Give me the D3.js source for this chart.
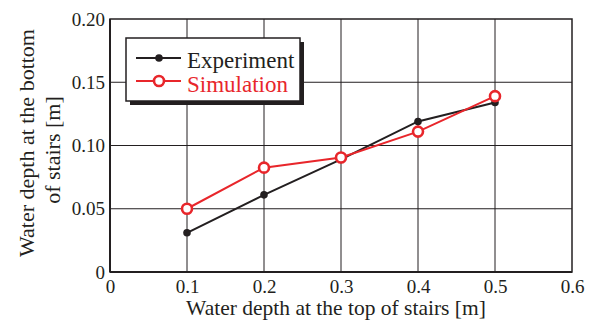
<!DOCTYPE html>
<html>
<head>
<meta charset="utf-8">
<script src="https://cdn.jsdelivr.net/npm/d3@7"></script>
<style>
  html, body { margin: 0; padding: 0; background: #fff; }
  svg { display: block; }
  svg text { font-family: 'Liberation Serif', 'Times New Roman', serif; }
</style>
</head>
<body>
<svg id="chart" width="592" height="321"></svg>
<script>
// Water depth at the top of stairs [m]
const topDepth = [0.1, 0.2, 0.3, 0.4, 0.5];
// Measured and simulated water depth at the bottom of stairs [m]
const experiment = [0.031, 0.061, 0.089, 0.119, 0.134];
const simulation = [0.050, 0.0825, 0.0905, 0.111, 0.139];

const xTicks = [0, 0.1, 0.2, 0.3, 0.4, 0.5, 0.6];
const xTickLabels = ["0", "0.1", "0.2", "0.3", "0.4", "0.5", "0.6"];
const yTicks = [0, 0.05, 0.10, 0.15, 0.20];
const yTickLabels = ["0", "0.05", "0.10", "0.15", "0.20"];

const seriesNames = ["Experiment", "Simulation"];
const ink = "#231f20";
const red = "#e8262b";
const serif = "'Liberation Serif', 'Times New Roman', serif";

const svg = d3.select("#chart");
const plotL = 110, plotR = 572, plotT = 19, plotB = 272;

const x = d3.scaleLinear().domain([0, 0.6]).range([plotL, plotR]);
const y = d3.scaleLinear().domain([0, 0.2]).range([plotB, plotT]);

// grid
const grid = svg.append("g");
grid.selectAll(".vg").data(xTicks.slice(1, -1)).enter().append("line")
  .attr("x1", d => x(d)).attr("x2", d => x(d))
  .attr("y1", plotT).attr("y2", plotB)
  .attr("stroke", ink).attr("stroke-width", 1);
grid.selectAll(".hg").data(yTicks.slice(1, -1)).enter().append("line")
  .attr("x1", plotL).attr("x2", plotR)
  .attr("y1", d => y(d)).attr("y2", d => y(d))
  .attr("stroke", ink).attr("stroke-width", 1);

// frame, with heavier left and bottom axes
svg.append("rect")
  .attr("x", plotL).attr("y", plotT)
  .attr("width", plotR - plotL).attr("height", plotB - plotT)
  .attr("fill", "none").attr("stroke", ink).attr("stroke-width", 1.5);
svg.append("line").attr("x1", plotL).attr("x2", plotR).attr("y1", plotB).attr("y2", plotB)
  .attr("stroke", ink).attr("stroke-width", 2.2);
svg.append("line").attr("x1", plotL).attr("x2", plotL).attr("y1", plotT).attr("y2", plotB)
  .attr("stroke", ink).attr("stroke-width", 2);

// axes
const xAxis = d3.axisBottom(x).tickValues(xTicks)
  .tickFormat((d, i) => xTickLabels[i]).tickSize(0).tickPadding(8);
const gx = svg.append("g").attr("transform", `translate(0,${plotB})`).call(xAxis);
gx.attr("font-family", serif).attr("font-size", 19);
gx.select(".domain").remove();
gx.selectAll("text").attr("fill", ink).attr("dy", "0.71em");

const yAxis = d3.axisLeft(y).tickValues(yTicks)
  .tickFormat((d, i) => yTickLabels[i]).tickSize(0).tickPadding(5);
const gy = svg.append("g").attr("transform", `translate(${plotL},0)`).call(yAxis);
gy.attr("font-family", serif).attr("font-size", 19);
gy.select(".domain").remove();
gy.selectAll("text").attr("fill", ink);

// axis titles
svg.append("text")
  .attr("x", 336).attr("y", 315)
  .attr("text-anchor", "middle").attr("font-size", 21.5).attr("fill", ink)
  .attr("font-family", serif)
  .text("Water depth at the top of stairs [m]");
const yt = svg.append("text")
  .attr("transform", "translate(34,143) rotate(-90)")
  .attr("text-anchor", "middle").attr("font-size", 22).attr("fill", ink)
  .attr("font-family", serif);
yt.append("tspan").attr("x", 0).attr("dy", 0).text("Water depth at the bottom");
yt.append("tspan").attr("x", -7).attr("dy", 26).text("of stairs [m]");

// series
const line = d3.line().x((d, i) => x(topDepth[i])).y(d => y(d));
svg.append("path").datum(experiment).attr("d", line)
  .attr("fill", "none").attr("stroke", ink).attr("stroke-width", 2);
svg.append("path").datum(simulation).attr("d", line)
  .attr("fill", "none").attr("stroke", red).attr("stroke-width", 2);

svg.selectAll(".exp").data(experiment).enter().append("circle")
  .attr("cx", (d, i) => x(topDepth[i])).attr("cy", d => y(d))
  .attr("r", 3.8).attr("fill", ink);
svg.selectAll(".sim").data(simulation).enter().append("circle")
  .attr("cx", (d, i) => x(topDepth[i])).attr("cy", d => y(d))
  .attr("r", 5).attr("fill", "#fff").attr("stroke", red).attr("stroke-width", 2.6);

// legend with drop shadow
const lg = svg.append("g");
lg.append("rect").attr("x", 130).attr("y", 42).attr("width", 174).attr("height", 63)
  .attr("fill", ink);
lg.append("rect").attr("x", 126).attr("y", 38).attr("width", 174).attr("height", 63)
  .attr("fill", "#fff").attr("stroke", ink).attr("stroke-width", 1.5);
const lgColors = [ink, red];
const lgLineY = [58, 81];
const lgTextY = [68, 92];
seriesNames.forEach((name, i) => {
  lg.append("line").attr("x1", 136).attr("x2", 181).attr("y1", lgLineY[i]).attr("y2", lgLineY[i])
    .attr("stroke", lgColors[i]).attr("stroke-width", 2);
  if (i === 0) {
    lg.append("circle").attr("cx", 159).attr("cy", lgLineY[i]).attr("r", 3.8).attr("fill", ink);
  } else {
    lg.append("circle").attr("cx", 159).attr("cy", lgLineY[i]).attr("r", 5)
      .attr("fill", "#fff").attr("stroke", red).attr("stroke-width", 2.6);
  }
  lg.append("text").attr("x", 187).attr("y", lgTextY[i])
    .attr("font-size", 23).attr("fill", lgColors[i]).attr("font-family", serif)
    .text(name);
});
</script>
</body>
</html>
